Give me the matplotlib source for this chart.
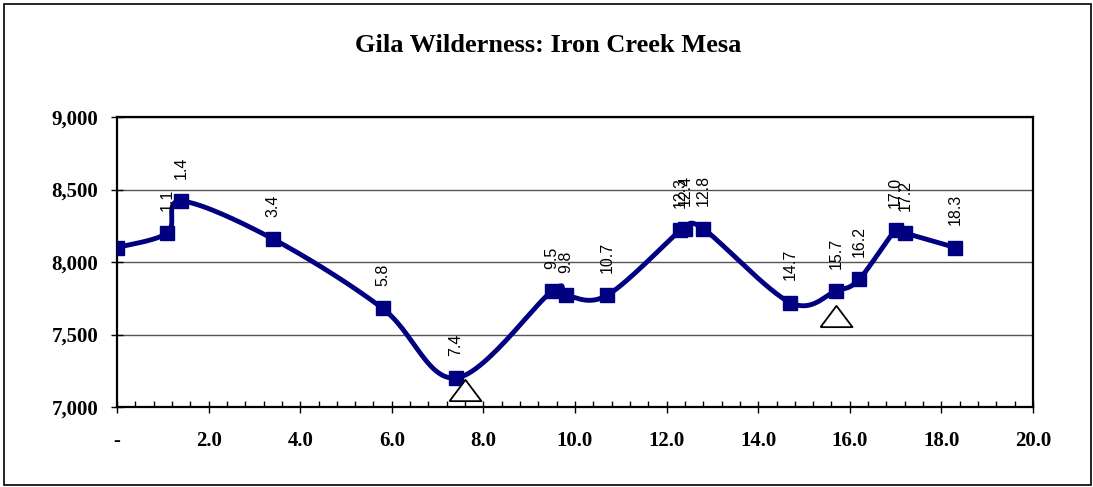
import matplotlib
matplotlib.use("Agg")
import matplotlib.pyplot as plt
import numpy as np
from matplotlib.patches import Rectangle
from matplotlib.ticker import FuncFormatter, MultipleLocator

# Trail profile: distance (miles) vs elevation (feet)
miles = [0.0, 1.1, 1.4, 3.4, 5.8, 7.4, 9.5, 9.8, 10.7, 12.3, 12.4, 12.8,
         14.7, 15.7, 16.2, 17.0, 17.2, 18.3]
elev = [8100, 8200, 8420, 8160, 7680, 7200, 7800, 7770, 7770, 8220, 8230, 8230,
        7720, 7800, 7880, 8220, 8200, 8100]
point_labels = ['', '1.1', '1.4', '3.4', '5.8', '7.4', '9.5', '9.8', '10.7', '12.3',
                '12.4', '12.8', '14.7', '15.7', '16.2', '17.0', '17.2', '18.3']

# Camp markers (hollow triangles)
camp_miles = [7.6, 15.7]
camp_elev = [7120, 7625]

y_ticks = [7000, 7500, 8000, 8500, 9000]

fig = plt.figure(figsize=(10.93, 4.87), dpi=100)
ax = fig.add_axes([117 / 1093, 80 / 487, 916 / 1093, 290 / 487])
ax.set_xlim(0, 20)
ax.set_ylim(7000, 9000)

# Excel-like smoothed line, built in pixel space from the data points
pts = ax.transData.transform(np.column_stack([miles, elev]))
n = len(pts)
curve = []
for i in range(n - 1):
    p0 = pts[max(i - 1, 0)]
    p1 = pts[i]
    p2 = pts[i + 1]
    p3 = pts[min(i + 2, n - 1)]
    c1 = p1 + (p2 - p0) / 6
    c2 = p2 - (p3 - p1) / 6
    t = np.linspace(0, 1, 30)[:, None]
    seg = ((1 - t) ** 3) * p1 + 3 * ((1 - t) ** 2) * t * c1 + 3 * (1 - t) * t ** 2 * c2 + t ** 3 * p2
    curve.append(seg)
curve = ax.transData.inverted().transform(np.vstack(curve))

ax.plot(curve[:, 0], curve[:, 1], color='#000080', lw=3.5, solid_capstyle='round', zorder=3)
ax.plot(miles, elev, ls='none', marker='s', ms=10, color='#000080', zorder=4)

for x, y, lab in zip(miles, elev, point_labels):
    if lab:
        ax.annotate(lab, (x, y), xytext=(0, 16), textcoords='offset points',
                    rotation=90, ha='center', va='bottom', fontsize=11.5,
                    family='Liberation Sans', zorder=5)

tri = [(-1.5, -1), (1.5, -1), (0, 1), (-1.5, -1)]
ax.plot(camp_miles, camp_elev, ls='none', marker=tri, ms=23, mfc='white',
        mec='black', mew=1.3, zorder=5)

ax.set_yticks(y_ticks)
ax.yaxis.set_major_formatter(FuncFormatter(lambda v, p: f'{v:,.0f}'))
ax.xaxis.set_major_locator(MultipleLocator(2))
ax.xaxis.set_minor_locator(MultipleLocator(0.4))
ax.xaxis.set_major_formatter(FuncFormatter(lambda v, p: '-' if v == 0 else f'{v:.1f}'))
ax.grid(axis='y', color='#555555', lw=1)
ax.set_axisbelow(True)

for lab in ax.get_xticklabels() + ax.get_yticklabels():
    lab.set_family('Liberation Serif')
    lab.set_fontweight('bold')
    lab.set_fontsize(15)
ax.tick_params(axis='y', direction='inout', length=9, width=1, pad=9)
ax.tick_params(axis='x', which='major', direction='inout', length=9, width=1, pad=13)
ax.tick_params(axis='x', which='minor', direction='in', length=4, width=1)
for s in ax.spines.values():
    s.set_linewidth(1.6)
    s.set_color('black')

fig.text(0.502, 1 - 46 / 487, 'Gila Wilderness: Iron Creek Mesa', ha='center', va='center',
         family='Liberation Serif', fontweight='bold', fontsize=19)

fig.patches.append(Rectangle((4 / 1093, 2 / 487), 1087 / 1093, 481 / 487, transform=fig.transFigure,
                             fill=False, edgecolor='black', lw=1.2))

fig.savefig('out.png', dpi=100)
